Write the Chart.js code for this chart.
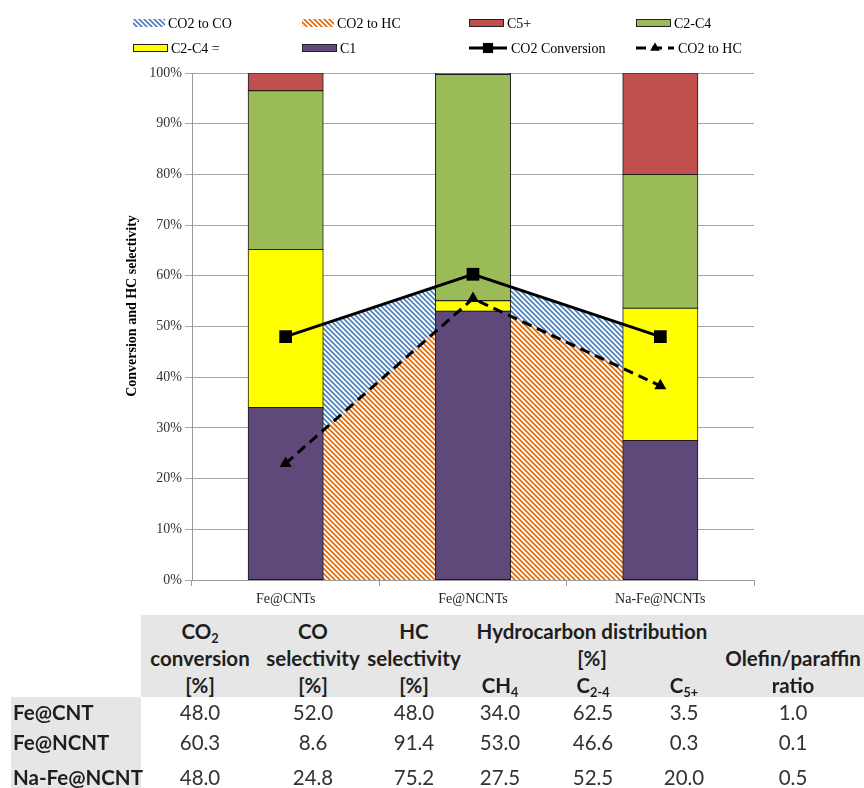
<!DOCTYPE html>
<html>
<head>
<meta charset="utf-8">
<script src="https://cdn.jsdelivr.net/npm/chart.js@4.4.1/dist/chart.umd.min.js"></script>
<style>
  body { margin: 0; background: #fff; }
  #wrap { position: relative; width: 864px; height: 788px; overflow: hidden; }
  #chartBox { position: absolute; left: 0; top: 0; width: 864px; height: 610px; }
  #tbl { position: absolute; left: 0; top: 0; width: 864px; height: 788px; font-family: Lato, "Open Sans", sans-serif; font-size: 20.5px; color: #1e1e1e; }
  .bg { position: absolute; background: #e6e6e6; }
  .t { position: absolute; white-space: nowrap; line-height: 1; transform: translate(-50%, -50%); }
  .h { font-weight: 700; }
  .lab { font-weight: 700; transform: translate(0, -50%); }
  .num { color: #333; }
  sub { font-size: 0.62em; vertical-align: -0.3em; line-height: 0; }
</style>
</head>
<body>
<div id="wrap">
  <div id="chartBox"><canvas id="chart"></canvas></div>
  <div id="tbl"></div>
</div>
<script>
// chart data
const catalysts = ["Fe@CNTs", "Fe@NCNTs", "Na-Fe@NCNTs"];
const c1 = [34.0, 53.0, 27.5];
const c24Olefin = [31.2, 2.1, 26.1];
const c24 = [31.3, 44.6, 26.4];
const c5plus = [3.5, 0.3, 20.0];
const co2Conversion = [48.0, 60.3, 48.0];
const co2ToHC = [23.0, 55.5, 38.3];

// table data
const tableRows = ["Fe@CNT", "Fe@NCNT", "Na-Fe@NCNT"];
const tConversion = ["48.0", "60.3", "48.0"];
const tCOSel = ["52.0", "8.6", "24.8"];
const tHCSel = ["48.0", "91.4", "75.2"];
const tCH4 = ["34.0", "53.0", "27.5"];
const tC24 = ["62.5", "46.6", "52.5"];
const tC5 = ["3.5", "0.3", "20.0"];
const tOlefin = ["1.0", "0.1", "0.5"];

const serif = "'Liberation Serif', 'Times New Roman', serif";

function hatch(color) {
  const s = 5;
  const c = document.createElement("canvas");
  c.width = s; c.height = s;
  const g = c.getContext("2d");
  g.fillStyle = "#fff";
  g.fillRect(0, 0, s, s);
  g.strokeStyle = color;
  g.lineWidth = 1.7;
  g.beginPath();
  g.moveTo(0, 0); g.lineTo(s, s);
  g.moveTo(-1, s - 1); g.lineTo(1, s + 1);
  g.moveTo(s - 1, -1); g.lineTo(s + 1, 1);
  g.stroke();
  return g.createPattern(c, "repeat");
}

const blueHatch = hatch("#4F81BD");
const orangeHatch = hatch("#E46C0A");

// legend: which dataset goes in which slot (4 per row)
const legendOrder = [1, 0, 5, 4, 3, 2, 6, 7];
const legendCols = [133, 302, 469, 636];
const legendRows = [23, 48];

const gridLegend = {
  id: "gridLegend",
  afterDraw(chart) {
    const ctx = chart.ctx;
    ctx.save();
    ctx.font = "14px " + serif;
    ctx.textBaseline = "middle";
    legendOrder.forEach((di, k) => {
      const ds = chart.data.datasets[di];
      const x = legendCols[k % 4];
      const y = legendRows[Math.floor(k / 4)];
      let tx;
      if (ds.type === "line" && !ds.fill) {
        ctx.strokeStyle = "#000";
        ctx.lineWidth = 3;
        ctx.setLineDash(ds.borderDash || []);
        ctx.beginPath();
        ctx.moveTo(x, y); ctx.lineTo(x + 38, y);
        ctx.stroke();
        ctx.setLineDash([]);
        ctx.fillStyle = "#000";
        Chart.helpers.drawPoint(ctx, { pointStyle: ds.pointStyle, radius: ds.pointRadius * 0.8, borderWidth: 0 }, x + 19, y);
        tx = x + 42;
      } else if (ds.type === "line") {
        ctx.fillStyle = ds.backgroundColor;
        ctx.fillRect(x, y - 4, 32, 8);
        tx = x + 35;
      } else {
        ctx.fillStyle = ds.backgroundColor;
        ctx.fillRect(x, y - 4, 35, 8);
        ctx.strokeStyle = "#222";
        ctx.lineWidth = 1;
        ctx.strokeRect(x + 0.5, y - 3.5, 34, 7);
        tx = x + 38;
      }
      ctx.fillStyle = "#000";
      ctx.fillText(ds.label, tx, y + 1);
    });

    // y axis title
    ctx.save();
    ctx.translate(132, 306);
    ctx.rotate(-Math.PI / 2);
    ctx.font = "bold 14px " + serif;
    ctx.textAlign = "center";
    ctx.fillStyle = "#000";
    ctx.fillText("Conversion and HC selectivity", 0, 0);
    ctx.restore();
    ctx.restore();
  }
};

const barBase = { type: "bar", stack: "hc", order: 2, borderColor: "#1a1a1a", borderWidth: 1, borderSkipped: false, inflateAmount: 0.5, categoryPercentage: 0.4, barPercentage: 1 };

new Chart(document.getElementById("chart"), {
  data: {
    labels: catalysts,
    datasets: [
      { type: "line", label: "CO2 to HC", data: co2ToHC, yAxisID: "y2", order: 3, fill: "origin", backgroundColor: orangeHatch, borderWidth: 0, pointRadius: 0, tension: 0 },
      { type: "line", label: "CO2 to CO", data: co2Conversion, yAxisID: "y2", order: 3, fill: "-1", backgroundColor: blueHatch, borderWidth: 0, pointRadius: 0, tension: 0 },
      Object.assign({}, barBase, { label: "C1", data: c1, backgroundColor: "#5F497A" }),
      Object.assign({}, barBase, { label: "C2-C4 =", data: c24Olefin, backgroundColor: "#FFFF00" }),
      Object.assign({}, barBase, { label: "C2-C4", data: c24, backgroundColor: "#9BBB59" }),
      Object.assign({}, barBase, { label: "C5+", data: c5plus, backgroundColor: "#C0504D" }),
      { type: "line", label: "CO2 Conversion", data: co2Conversion, yAxisID: "y2", order: 1, fill: false, borderColor: "#000", borderWidth: 3, pointStyle: "rect", pointRadius: 9, pointBackgroundColor: "#000", pointBorderWidth: 0, tension: 0 },
      { type: "line", label: "CO2 to HC", data: co2ToHC, yAxisID: "y2", order: 0, fill: false, borderColor: "#000", borderWidth: 3, borderDash: [10, 6], pointStyle: "triangle", pointRadius: 7, pointBackgroundColor: "#000", pointBorderWidth: 0, tension: 0 }
    ]
  },
  options: {
    responsive: true,
    maintainAspectRatio: false,
    animation: false,
    layout: { padding: { left: 120, right: 110, top: 73, bottom: 0 } },
    plugins: { legend: { display: false }, tooltip: { enabled: false } },
    scales: {
      x: {
        stacked: true,
        grid: { offset: true, drawOnChartArea: false, color: "#9a9a9a", tickLength: 6 },
        border: { color: "#9a9a9a" },
        ticks: { font: { family: serif, size: 14 }, color: "#222", padding: 5 },
        afterFit: s => { s.height = 30; }
      },
      y: {
        stacked: true,
        min: 0, max: 100,
        ticks: { stepSize: 10, callback: v => v + "%", font: { family: serif, size: 14 }, color: "#333", padding: 3 },
        grid: { color: "#a6a6a6", tickLength: 7 },
        border: { color: "#9a9a9a" },
        afterFit: s => { s.width = 72; }
      },
      y2: { display: false, min: 0, max: 100 }
    }
  },
  plugins: [gridLegend]
});

// table below the chart
const tbl = document.getElementById("tbl");
function box(x, y, w, h) {
  const d = document.createElement("div");
  d.className = "bg";
  Object.assign(d.style, { left: x + "px", top: y + "px", width: w + "px", height: h + "px" });
  tbl.appendChild(d);
}
function txt(html, x, y, cls) {
  const d = document.createElement("div");
  d.className = "t " + cls;
  d.innerHTML = html;
  d.style.left = x + "px";
  d.style.top = y + "px";
  tbl.appendChild(d);
}
box(141, 615, 723, 82);
box(11, 697, 130, 91);

const colX = [200, 313, 414, 500, 593, 684, 793];
const headY = [631, 658, 685];
const rowY = [712, 742, 777];

txt("CO<sub>2</sub>", colX[0], headY[0], "h");
txt("conversion", colX[0], headY[1], "h");
txt("[%]", colX[0], headY[2], "h");
txt("CO", colX[1], headY[0], "h");
txt("selectivity", colX[1], headY[1], "h");
txt("[%]", colX[1], headY[2], "h");
txt("HC", colX[2], headY[0], "h");
txt("selectivity", colX[2], headY[1], "h");
txt("[%]", colX[2], headY[2], "h");
txt("Hydrocarbon distribution", 592, headY[0], "h");
txt("[%]", 592, headY[1], "h");
txt("CH<sub>4</sub>", colX[3], headY[2], "h");
txt("C<sub>2-4</sub>", colX[4], headY[2], "h");
txt("C<sub>5+</sub>", colX[5], headY[2], "h");
txt("Olefin/paraffin", colX[6], headY[1], "h");
txt("ratio", colX[6], headY[2], "h");

const cols = [tConversion, tCOSel, tHCSel, tCH4, tC24, tC5, tOlefin];
tableRows.forEach((name, r) => {
  txt(name, 13, rowY[r], "lab");
  cols.forEach((col, c) => txt(col[r], colX[c], rowY[r], "num"));
});
</script>
</body>
</html>
